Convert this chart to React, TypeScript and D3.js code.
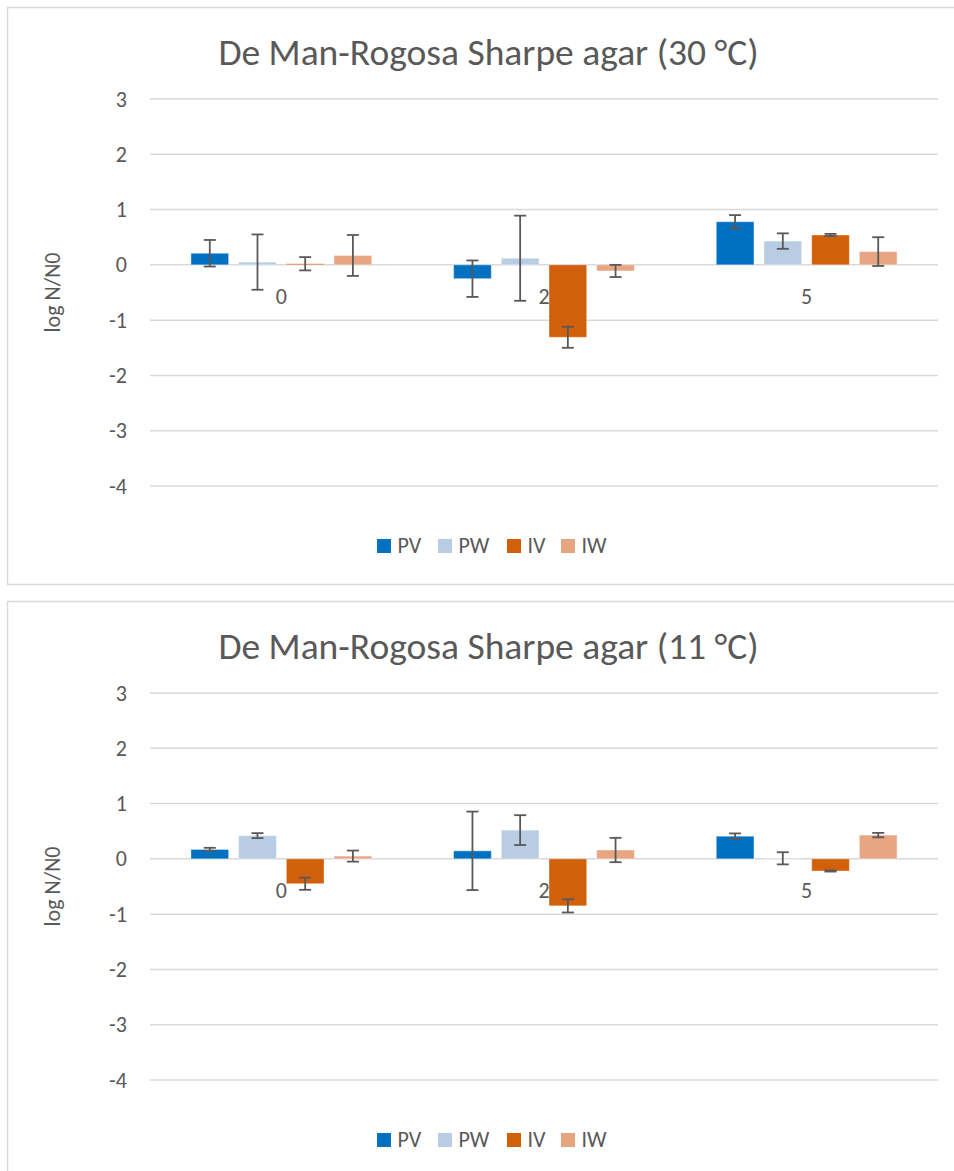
import React from "react";
import * as d3 from "d3";

const categories = ["0", "2", "5"];
const seriesNames = ["PV", "PW", "IV", "IW"];
const colors = ["#0070C0", "#B8CCE4", "#D2600B", "#E8A582"];
const yTicks = [3, 2, 1, 0, -1, -2, -3, -4];

// Chart 1: 30 °C — values per series across categories 0,2,5
const pv30 = [0.21, -0.25, 0.78];
const pw30 = [0.05, 0.12, 0.43];
const iv30 = [0.02, -1.31, 0.54];
const iw30 = [0.17, -0.11, 0.24];
const pv30Err = [0.24, 0.33, 0.12];
const pw30Err = [0.5, 0.77, 0.14];
const iv30Err = [0.12, 0.19, 0.02];
const iw30Err = [0.37, 0.11, 0.26];

// Chart 2: 11 °C
const pv11 = [0.17, 0.145, 0.41];
const pw11 = [0.42, 0.52, 0.01];
const iv11 = [-0.45, -0.85, -0.22];
const iw11 = [0.05, 0.16, 0.43];
const pv11Err = [0.03, 0.71, 0.05];
const pw11Err = [0.045, 0.27, 0.11];
const iv11Err = [0.11, 0.12, 0.01];
const iw11Err = [0.1, 0.22, 0.04];

const FONT = "Carlito, Calibri, 'Open Sans', 'Liberation Sans', sans-serif";
const TEXT = "#595959";
const GRID = "#D9D9D9";

type ChartProps = {
  top: number;
  title: string;
  values: number[][];
  errors: number[][];
};

function Chart({ top, title, values, errors }: ChartProps) {
  const y = d3.scaleLinear().domain([-4, 3]).range([top + 478, top + 91]);
  const x = d3.scaleBand<string>().domain(categories).range([150, 938]);
  const barW = 37.7;
  const step = 47.7;
  const cap = 6;
  return (
    <g>
      <rect x={7.5} y={top - 0.5} width={960} height={577} fill="#fff" stroke={GRID} strokeWidth={1.5} />
      <text x={488.5} y={top + 56.5} textAnchor="middle" fontFamily={FONT} fontSize={37.5} fill={TEXT}>
        {title}
      </text>
      {yTicks.map((t) => (
        <g key={t}>
          <line x1={150} x2={938} y1={y(t)} y2={y(t)} stroke={GRID} strokeWidth={1.5} />
          <text x={127} y={y(t) + 7.5} textAnchor="end" fontFamily={FONT} fontSize={22} fill={TEXT}>
            {t}
          </text>
        </g>
      ))}
      <text
        transform={`translate(60,${(y(3) + y(-4)) / 2}) rotate(-90)`}
        textAnchor="middle"
        fontFamily={FONT}
        fontSize={22}
        fill={TEXT}
      >
        log N/N0
      </text>
      {categories.map((c, ci) => {
        const cx = (x(c) as number) + x.bandwidth() / 2;
        return (
          <g key={c}>
            {seriesNames.map((s, si) => {
              const v = values[si][ci];
              const bx = cx + (si - 1.5) * step - barW / 2;
              return (
                <rect
                  key={s}
                  x={bx}
                  width={barW}
                  y={Math.min(y(v), y(0))}
                  height={Math.abs(y(v) - y(0))}
                  fill={colors[si]}
                  stroke="#fff"
                  strokeOpacity={0.4}
                  strokeWidth={1}
                />
              );
            })}
            <text x={cx} y={y(0) + 39} textAnchor="middle" fontFamily={FONT} fontSize={22} fill={TEXT}>
              {c}
            </text>
            {seriesNames.map((s, si) => {
              const v = values[si][ci];
              const e = errors[si][ci];
              const ex = cx + (si - 1.5) * step;
              const y1 = y(v + e);
              const y2 = y(v - e);
              return (
                <g key={s} stroke="#595959" strokeWidth={1.8}>
                  <line x1={ex} x2={ex} y1={y1} y2={y2} />
                  <line x1={ex - cap} x2={ex + cap} y1={y1} y2={y1} />
                  <line x1={ex - cap} x2={ex + cap} y1={y2} y2={y2} />
                </g>
              );
            })}
          </g>
        );
      })}
      {(() => {
        const legendX = [377, 438, 507, 561];
        return seriesNames.map((s, si) => (
          <g key={s}>
            <rect x={legendX[si]} y={top + 531} width={14} height={14} fill={colors[si]} />
            <text x={legendX[si] + 20.5} y={top + 545} fontFamily={FONT} fontSize={22} fill={TEXT}>
              {s}
            </text>
          </g>
        ));
      })()}
    </g>
  );
}

export default function App() {
  return (
    <svg
      width={954}
      height={1171}
      style={{ position: "absolute", left: 0, top: 0, display: "block" }}
    >
      <rect width={954} height={1171} fill="#fff" />
      <Chart
        top={8}
        title="De Man-Rogosa Sharpe agar (30 °C)"
        values={[pv30, pw30, iv30, iw30]}
        errors={[pv30Err, pw30Err, iv30Err, iw30Err]}
      />
      <Chart
        top={602}
        title="De Man-Rogosa Sharpe agar (11 °C)"
        values={[pv11, pw11, iv11, iw11]}
        errors={[pv11Err, pw11Err, iv11Err, iw11Err]}
      />
    </svg>
  );
}
